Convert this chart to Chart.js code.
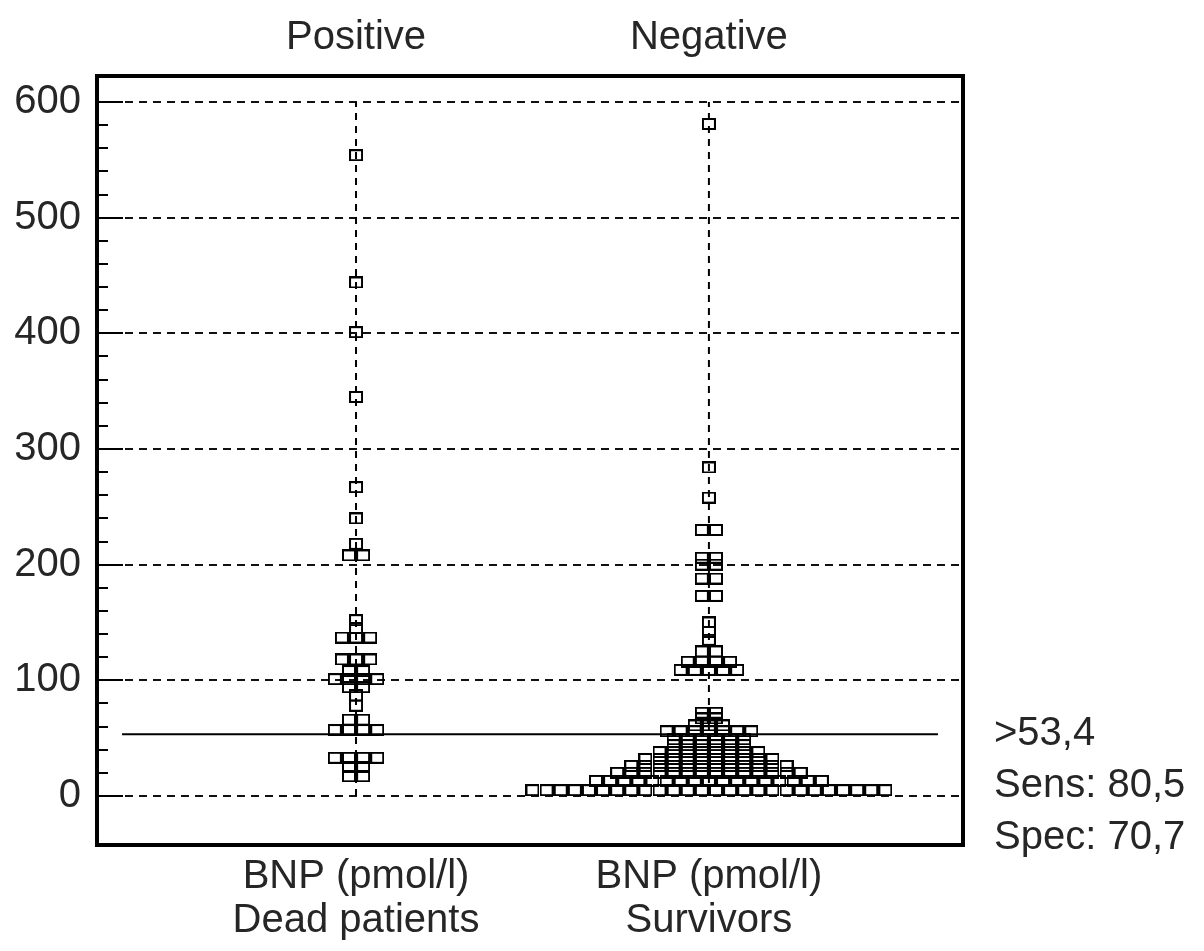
<!DOCTYPE html>
<html>
<head>
<meta charset="utf-8">
<script src="https://cdn.jsdelivr.net/npm/chart.js@4/dist/chart.umd.min.js"></script>
<style>
  html, body { margin: 0; padding: 0; background: #fff; }
  #wrap { width: 1204px; height: 951px; }
</style>
</head>
<body>
<div id="wrap"><canvas id="chart"></canvas></div>
<script>
// categories and their axis texts
const groups = ["Positive", "Negative"];
const groupLabels = [["BNP (pmol/l)", "Dead patients"], ["BNP (pmol/l)", "Survivors"]];

// BNP values (pmol/l)
const deadValues = [
  554, 444, 401, 345, 267, 240, 218, 208, 208,
  152, 145, 137, 137, 137, 118, 118, 118,
  108, 108, 101, 101, 101, 101, 94, 94, 87, 78,
  66, 66, 57, 57, 57, 57,
  33, 33, 33, 33, 25, 25, 17, 17
];
const survivorValues = [
  581, 284, 258, 230, 230, 206, 206, 200, 200, 188, 188, 173, 173,
  150, 142, 135, 125, 125, 116, 116, 116, 116, 109, 109, 109, 109, 109,
  72, 72, 67, 67, 61, 61, 61, 56, 56, 56, 56, 56, 56, 56,
  49, 49, 49, 49, 49, 49,
  44, 44, 44, 44, 44, 44,
  38, 38, 38, 38, 38, 38, 38, 38,
  32, 32, 32, 32, 32, 32, 32, 32, 32, 32,
  26, 26, 26, 26, 26, 26, 26, 26, 26, 26, 26, 26,
  20, 20, 20, 20, 20, 20, 20, 20, 20, 20, 20, 20, 20, 20,
  13, 13, 13, 13, 13, 13, 13, 13, 13, 13, 13, 13, 13, 13, 13, 13, 13,
  5, 5, 5, 5, 5, 5, 5, 5, 5, 5, 5, 5, 5, 5, 5, 5, 5, 5, 5, 5, 5, 5, 5, 5, 5, 5
];

// cut-off criterion and its side texts
const cutoff = 53.4;
const cutoffLabels = [">53,4", "Sens: 80,5", "Spec: 70,7"];
const yTicks = [0, 100, 200, 300, 400, 500, 600];

const FONT = "'Liberation Sans', Arial, sans-serif";
const INK = "#262626";
const step = 0.04;   // horizontal spread between equal values, in x units

// spread equal values side by side around the category centre
function dotPlot(values, centre) {
  const rows = {};
  values.forEach(v => { (rows[v] = rows[v] || []).push(v); });
  const pts = [];
  Object.keys(rows).forEach(k => {
    const row = rows[k];
    row.forEach((v, i) => {
      pts.push({ x: centre + (i - (row.length - 1) / 2) * step, y: v });
    });
  });
  return pts;
}

// open square marker
const box = document.createElement("canvas");
box.width = 14; box.height = 12;
(() => {
  const g = box.getContext("2d");
  g.strokeStyle = "#000";
  g.lineWidth = 2;
  g.strokeRect(1, 1, 12, 10);
})();

const framePlugin = {
  id: "frame",
  afterDatasetsDraw(chart) {
    const { ctx, chartArea: a, scales: { y } } = chart;
    ctx.save();
    ctx.strokeStyle = "#000";
    // inner ticks on the value axis
    ctx.lineWidth = 2;
    for (let v = 0; v <= 600; v += 20) {
      const py = Math.round(y.getPixelForValue(v));
      const len = v % 100 === 0 ? 26 : 11;
      ctx.beginPath();
      ctx.moveTo(a.left, py);
      ctx.lineTo(a.left + len, py);
      ctx.stroke();
    }
    ctx.lineWidth = 4;
    ctx.strokeRect(a.left, a.top, a.right - a.left, a.bottom - a.top);
    ctx.restore();
  },
  afterDraw(chart) {
    const { ctx, chartArea: a, scales: { y } } = chart;
    ctx.save();
    ctx.fillStyle = INK;
    ctx.font = "40px " + FONT;
    ctx.textAlign = "left";
    ctx.textBaseline = "middle";
    const y0 = y.getPixelForValue(cutoff);
    cutoffLabels.forEach((t, i) => ctx.fillText(t, a.right + 31, y0 + i * 52));
    ctx.restore();
  }
};

const xMin = 0.266, xMax = 2.72;

new Chart(document.getElementById("chart"), {
  type: "scatter",
  data: {
    datasets: [
      {
        type: "line",
        data: [{ x: 1, y: 0 }, { x: 1, y: 600 }],
        borderColor: "#000", borderWidth: 2, borderDash: [7, 6],
        pointRadius: 0
      },
      {
        type: "line",
        data: [{ x: 2, y: 0 }, { x: 2, y: 600 }],
        borderColor: "#000", borderWidth: 2, borderDash: [7, 6],
        pointRadius: 0
      },
      {
        type: "line",
        data: [{ x: 0.337, y: cutoff }, { x: 2.649, y: cutoff }],
        borderColor: "#000", borderWidth: 2,
        pointRadius: 0
      },
      {
        label: "Dead patients",
        data: dotPlot(deadValues, 1),
        pointStyle: box, pointRadius: 6
      },
      {
        label: "Survivors",
        data: dotPlot(survivorValues, 2),
        pointStyle: box, pointRadius: 6
      }
    ]
  },
  options: {
    responsive: true,
    maintainAspectRatio: false,
    animation: false,
    layout: { padding: { left: 0, right: 241, top: 0, bottom: 0 } },
    plugins: { legend: { display: false }, tooltip: { enabled: false } },
    scales: {
      x: {
        type: "linear", position: "bottom", min: xMin, max: xMax,
        afterBuildTicks: s => { s.ticks = groups.map((_, i) => ({ value: i + 1 })); },
        afterFit: s => { s.height = 106; },
        grid: { display: false, drawTicks: false },
        border: { display: false },
        ticks: {
          autoSkip: false, maxRotation: 0, padding: 10, color: INK,
          font: { family: FONT, size: 40, lineHeight: 1.1 },
          callback: (v, i) => groupLabels[i]
        }
      },
      x2: {
        type: "linear", position: "top", min: xMin, max: xMax,
        afterBuildTicks: s => { s.ticks = groups.map((_, i) => ({ value: i + 1 })); },
        afterFit: s => { s.height = 76; },
        grid: { display: false, drawTicks: false },
        border: { display: false },
        ticks: {
          autoSkip: false, maxRotation: 0, padding: 14, color: INK,
          font: { family: FONT, size: 40 },
          callback: (v, i) => groups[i]
        }
      },
      y: {
        min: -42.4, max: 622.5,
        afterBuildTicks: s => { s.ticks = yTicks.map(v => ({ value: v })); },
        afterFit: s => { s.width = 97; },
        grid: { color: "#111", lineWidth: 2, drawTicks: false },
        border: { display: false, dash: [8, 6] },
        ticks: { padding: 16, color: INK, font: { family: FONT, size: 40 } }
      }
    }
  },
  plugins: [framePlugin]
});
</script>
</body>
</html>
